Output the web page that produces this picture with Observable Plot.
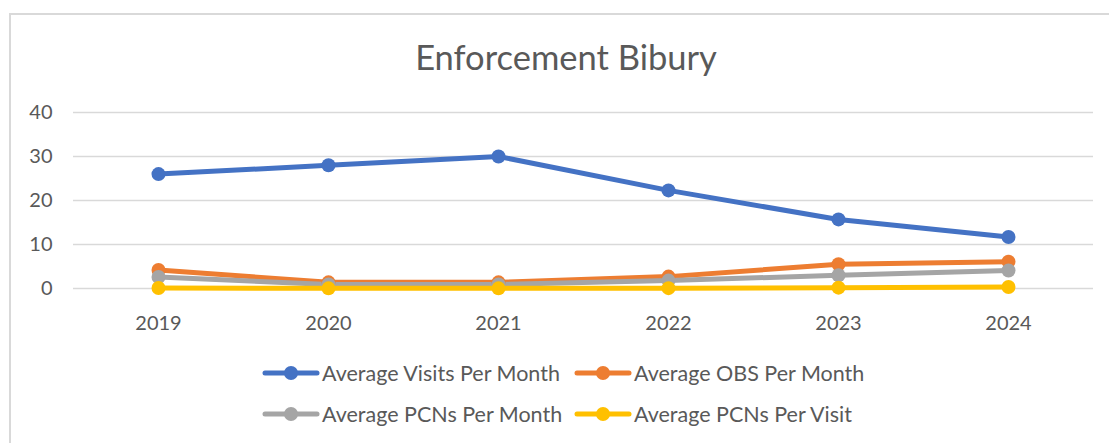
<!DOCTYPE html>
<html>
<head>
<meta charset="utf-8">
<script src="https://cdn.jsdelivr.net/npm/d3@7"></script>
<script src="https://cdn.jsdelivr.net/npm/@observablehq/plot@0.6"></script>
<style>
  html, body { margin: 0; padding: 0; background: #fff; }
  body { width: 1109px; height: 443px; position: relative; overflow: hidden; font-family: Lato, "Open Sans", sans-serif; color: #595959; }
  #frame { position: absolute; left: 9px; top: 13px; width: 1120px; height: 460px; border: 2px solid #d9d9d9; box-sizing: border-box; }
  #title { position: absolute; left: 0; width: 1132px; top: 36px; text-align: center; font-size: 34.5px; line-height: 42px; color: #595959; }
  #chart { position: absolute; left: 0; top: 90px; }
  .leg { position: absolute; display: flex; align-items: center; font-size: 21.5px; color: #595959; white-space: nowrap; }
  .leg svg { margin-right: 2px; }
</style>
</head>
<body>
<div id="frame"></div>
<div id="title">Enforcement Bibury</div>
<div id="chart"></div>
<div id="legend"></div>
<script>
const years = ["2019", "2020", "2021", "2022", "2023", "2024"];
const seriesNames = ["Average Visits Per Month", "Average OBS Per Month", "Average PCNs Per Month", "Average PCNs Per Visit"];
const visitsPerMonth = [26.0, 28.0, 30.0, 22.3, 15.7, 11.7];
const obsPerMonth = [4.2, 1.4, 1.4, 2.7, 5.5, 6.1];
const pcnsPerMonth = [2.6, 0.9, 0.9, 1.8, 3.0, 4.1];
const pcnsPerVisit = [0.10, 0.03, 0.03, 0.08, 0.19, 0.35];
const yTicks = [0, 10, 20, 30, 40];
const colors = ["#4472C4", "#ED7D31", "#A5A5A5", "#FFC000"];

const seriesValues = [visitsPerMonth, obsPerMonth, pcnsPerMonth, pcnsPerVisit];
const data = [];
seriesNames.forEach((name, i) => {
  years.forEach((yr, j) => data.push({series: name, year: yr, value: seriesValues[i][j]}));
});

const chart = Plot.plot({
  width: 1109,
  height: 260,
  marginLeft: 73,
  marginRight: 16,
  marginTop: 22,
  marginBottom: 62,
  style: {fontFamily: "Lato, 'Open Sans', sans-serif", fontSize: "20px", color: "#595959", background: "transparent"},
  x: {type: "point", domain: years, padding: 0.5, label: null},
  y: {domain: [0, 40], label: null},
  color: {domain: seriesNames, range: colors},
  marks: [
    Plot.gridY(yTicks, {stroke: "#d9d9d9", strokeOpacity: 1, strokeWidth: 1.5}),
    Plot.axisY(yTicks, {tickSize: 0, tickPadding: 21, label: null, fill: "#595959"}),
    Plot.axisX(years, {tickSize: 0, tickPadding: 27, label: null, fill: "#595959"}),
    Plot.line(data, {x: "year", y: "value", z: "series", stroke: "series", strokeWidth: 5, strokeLinejoin: "round", strokeLinecap: "round"}),
    Plot.dot(data, {x: "year", y: "value", fill: "series", r: 7, stroke: null})
  ]
});
document.getElementById("chart").appendChild(chart);

// legend
const legend = document.getElementById("legend");
const positions = [[262, 372], [574, 372], [262, 413], [574, 413]];
seriesNames.forEach((name, i) => {
  const [x, y] = positions[i];
  const div = document.createElement("div");
  div.className = "leg";
  div.style.left = x + "px";
  div.style.top = (y - 13) + "px";
  div.style.height = "28px";
  div.innerHTML = `<svg width="58" height="16"><line x1="3" x2="55" y1="8" y2="8" stroke="${colors[i]}" stroke-width="5" stroke-linecap="round"/><circle cx="29" cy="8" r="7" fill="${colors[i]}"/></svg><span>${name}</span>`;
  legend.appendChild(div);
});
</script>
</body>
</html>
